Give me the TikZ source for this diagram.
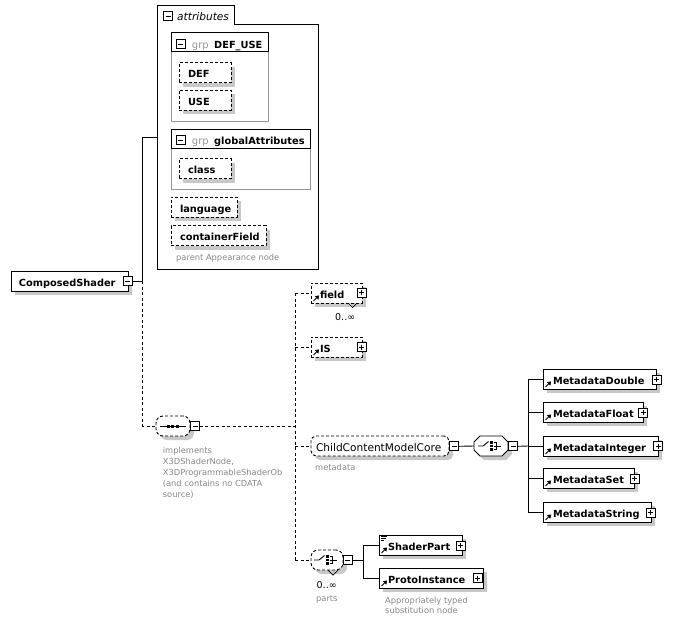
\documentclass[tikz,border=0pt]{standalone}
\usepackage{fontspec}
\setmainfont{DejaVu Sans}
\usetikzlibrary{shadows}
\definecolor{shgray}{RGB}{200,200,200}
\definecolor{grpgray}{RGB}{150,150,150}
\definecolor{anngray}{RGB}{135,135,135}
\newcommand{\bfs}{\fontsize{9.8}{11}\selectfont\bfseries}
\newcommand{\rgs}{\fontsize{10.6}{12}\selectfont}
\newcommand{\sms}{\fontsize{8.3}{11}\selectfont}
\newcommand{\refarr}[1]{%
  \draw[line width=0.9pt] ([shift={(3pt,2.5pt)}]#1.south west) -- ([shift={(6pt,5.5pt)}]#1.south west);
  \fill ([shift={(8.5pt,8pt)}]#1.south west) -- ([shift={(4.3pt,7.3pt)}]#1.south west) -- ([shift={(7.8pt,3.8pt)}]#1.south west) -- cycle;}
\newcommand{\chicon}[2]{%
  \begin{scope}[shift={(#1,#2)}]
    \draw[line width=0.9pt] (-13,0) -- (-8,0) -- (-2.5,-4.5);
    \fill (-0.75,-4.75) rectangle (1.75,-2.25);
    \fill (-0.75,-1.25) rectangle (1.75,1.25);
    \fill (-0.75,2.25) rectangle (1.75,4.75);
    \draw[line width=0.8pt] (3,-3.5) -- (5.5,-3.5) -- (5.5,3.5) -- (3,3.5);
    \draw[line width=0.8pt] (3,0) -- (10,0);
  \end{scope}}
\tikzset{
  boxshadow/.style={general shadow={fill=shgray, shadow xshift=4pt, shadow yshift=-4pt}},
  elem/.style={draw, fill=white, line width=0.9pt, inner xsep=0pt, inner ysep=0pt,
    minimum height=20pt, text width=#1, align=left, text height=10pt, text depth=0pt,
    font=\bfs, boxshadow},
  opt/.style={dash pattern=on 3pt off 2pt},
  conn/.style={line width=0.9pt},
  dconn/.style={line width=0.9pt, dash pattern=on 3pt off 2.5pt},
  pmbox/.style={draw, fill=white, line width=0.8pt, minimum size=9pt, inner sep=0pt},
  pmminus/.style={pmbox, path picture={\draw[line width=0.8pt] ([xshift=2pt]path picture bounding box.west) -- ([xshift=-2pt]path picture bounding box.east);}},
  pmplus/.style={pmbox, path picture={\draw[line width=0.8pt] ([xshift=2pt]path picture bounding box.west) -- ([xshift=-2pt]path picture bounding box.east) ([yshift=-2pt]path picture bounding box.north) -- ([yshift=2pt]path picture bounding box.south);}},
  ann/.style={font=\sms, text=anngray, inner sep=0pt, align=left},
  occ/.style={font=\fontsize{9.5}{11}\selectfont, inner sep=0pt, anchor=base west},
  compo/.style={draw, fill=white, line width=0.9pt, rounded corners=7pt, inner sep=0pt, minimum height=20pt, boxshadow},
}
\begin{document}
\begin{tikzpicture}[x=1pt,y=-1pt]
\useasboundingbox (0,0) rectangle (675,622);

% ---------- attributes container ----------
\draw[line width=0.9pt] (157,5) -- (234,5) -- (234,24) -- (318,24) -- (318,269) -- (157,269) -- cycle;
\node[pmminus] (attrm) at (168.2,16) {};
\node[font=\rgs\itshape, anchor=base west, inner sep=0pt] (attrt) at (177,20) {attributes};
\coordinate (attrL) at (157,137);

% DEF_USE group
\draw[grpgray, line width=0.9pt] (171,51.7) rectangle (268.7,121);
\draw[line width=0.9pt] (171,32.7) rectangle (268.7,51.7);
\node[pmminus] (dum) at (180.5,44.2) {};
\node[font=\fontsize{10}{12}\selectfont, text=grpgray, anchor=base west, inner sep=0pt] (dug) at (191.7,48.3) {grp};
\node[font=\bfs, anchor=base west, inner sep=0pt] (dut) at (214,48.3) {DEF\_USE};
\node[elem=52pt, opt] (def) at (205,72.5) {\hspace*{9pt}DEF};
\node[elem=52pt, opt] (use) at (205,100) {\hspace*{9pt}USE};

% globalAttributes group
\draw[grpgray, line width=0.9pt] (171,148.3) rectangle (310.7,189.3);
\draw[line width=0.9pt] (171,129.3) rectangle (310.7,148.3);
\node[pmminus] (gam) at (180.5,140) {};
\node[font=\fontsize{10}{12}\selectfont, text=grpgray, anchor=base west, inner sep=0pt] (gag) at (191.7,144) {grp};
\node[font=\bfs, anchor=base west, inner sep=0pt] (gat) at (214,144) {globalAttributes};
\node[elem=52pt, opt] (class) at (205,168.5) {\hspace*{9pt}class};

\node[elem=66pt, opt] (lang) at (204,207.2) {\hspace*{9pt}language};
\node[elem=95pt, opt] (cf) at (218.5,235.7) {\hspace*{9pt}containerField};
\node[ann, anchor=base west] (cfann) at (176,260.2) {parent Appearance node};

% ---------- root ----------
\node[elem=117pt, minimum height=19.5pt] (comp) at (69.5,281.5) {\hspace*{8pt}ComposedShader};
\node[pmminus] (compm) at (127.8,281.3) {};
\coordinate (j1) at (142.7,281.3);
\draw[conn] (compm.east) -- (j1) |- (attrL);

% ---------- sequence ----------
\node[compo, opt, minimum width=34pt] (seq) at (173,426) {};
\draw[line width=0.9pt] (160,426) -- (186,426);
\fill (166.5,424.5) rectangle (169.5,427.5);
\fill (171,424.5) rectangle (174,427.5);
\fill (175.5,424.5) rectangle (178.5,427.5);
\node[pmminus] (seqm) at (195,426.3) {};
\draw[dconn] (j1) |- (seq.west);
\node[ann, anchor=north west] (seqann) at (162.7,446.7) {implements\\X3DShaderNode,\\X3DProgrammableShaderOb\\(and contains no CDATA\\source)};

% main dashed trunk
\coordinate (vtop) at (295,293);
\coordinate (vis) at (295,347);
\coordinate (vseq) at (295,426.3);
\coordinate (vcc) at (295,446);
\coordinate (vbot) at (295,560);
\draw[dconn] (vtop) -- (vbot);
\draw[dconn] (seqm.east) -- (vseq);

% field
\node[elem=51pt, opt] (field) at (336.5,293) {\hspace*{9pt}field};
\refarr{field}
\node[pmplus] (fieldp) at (361.7,292.5) {};
\draw[line width=0.7pt] (348,303) -- (352.5,307.5) -- (357,303);
\node[occ] (fieldocc) at (335,320.5) {0..∞};
\draw[dconn] (vtop) -- (field.west);

% IS
\node[elem=51pt, opt] (is) at (336.5,347) {\hspace*{9pt}IS};
\refarr{is}
\node[pmplus] (isp) at (361.7,347) {};
\draw[dconn] (vis) -- (is.west);

% ChildContentModelCore
\node[elem=138pt, opt, rounded corners=5pt, font=\rgs] (ccmc) at (380,446) {\hspace*{5pt}ChildContentModelCore};
\node[pmminus] (ccmcm) at (454,446.3) {};
\node[ann, anchor=base west] (ccann) at (315,470.7) {metadata};
\draw[dconn] (vcc) -- (ccmc.west);

% choice 1
\node[minimum width=34pt, minimum height=20pt, inner sep=0pt] (ch1) at (491,446) {};
\fill[shgray] (484,440) -- (506,440) -- (512,446) -- (512,454) -- (506,460) -- (484,460) -- (478,454) -- (478,446) -- cycle;
\filldraw[fill=white, line width=0.9pt] (480,436) -- (502,436) -- (508,442) -- (508,450) -- (502,456) -- (480,456) -- (474,450) -- (474,442) -- cycle;
\chicon{491}{446}
\node[pmminus] (ch1m) at (513,446.3) {};
\draw[conn] (ccmcm.east) -- (ch1.west);

\coordinate (m1) at (528,379);
\coordinate (m2) at (528,412);
\coordinate (m3) at (528,446);
\coordinate (m4) at (528,478);
\coordinate (m5) at (528,512);
\draw[conn] (m1) -- (m5);
\draw[conn] (ch1m.east) -- (m3);

\node[elem=113pt] (md1) at (599.5,379) {\hspace*{10pt}MetadataDouble};
\node[elem=100pt] (md2) at (593,412) {\hspace*{10pt}MetadataFloat};
\node[elem=115pt] (md3) at (600.5,446) {\hspace*{10pt}MetadataInteger};
\node[elem=91pt] (md4) at (588.5,478) {\hspace*{10pt}MetadataSet};
\node[elem=108pt] (md5) at (597,512) {\hspace*{10pt}MetadataString};
\refarr{md1}\refarr{md2}\refarr{md3}\refarr{md4}\refarr{md5}
\node[pmplus] (md1p) at (656.5,379.5) {};
\node[pmplus] (md2p) at (643.3,412.5) {};
\node[pmplus] (md3p) at (658,446) {};
\node[pmplus] (md4p) at (634.6,478.5) {};
\node[pmplus] (md5p) at (650.5,512.5) {};
\draw[conn] (m1) -- (md1.west);
\draw[conn] (m2) -- (md2.west);
\draw[conn] (m3) -- (md3.west);
\draw[conn] (m4) -- (md4.west);
\draw[conn] (m5) -- (md5.west);

% parts choice
\node[compo, opt, minimum width=32pt] (parts) at (327,560) {};
\draw[line width=0.7pt] (328,570) -- (333,575) -- (338,570);
\chicon{327}{560}
\node[pmminus] (partsm) at (347.7,560.3) {};
\node[occ] (partsocc) at (316.5,588) {0..∞};
\node[ann, anchor=base west] (partsann) at (316,601.5) {parts};
\draw[dconn] (vbot) -- (parts.west);

\coordinate (p1) at (363,545);
\coordinate (pm) at (363,560.3);
\coordinate (p2) at (363,578);
\draw[conn] (p1) -- (p2);
\draw[conn] (partsm.east) -- (pm);

\node[elem=83pt] (sp) at (420.5,545) {\hspace*{9pt}ShaderPart};
\refarr{sp}
\draw[line width=0.7pt] (381,536.8) -- (387,536.8) (381,538.8) -- (386,538.8) (381,540.8) -- (384,540.8);
\node[pmplus] (spp) at (460.5,545.5) {};
\node[elem=104pt] (pi) at (431,578) {\hspace*{9pt}ProtoInstance};
\refarr{pi}
\node[pmplus] (pip) at (477.5,578) {};
\draw[conn] (p1) -- (sp.west);
\draw[conn] (p2) -- (pi.west);
\node[ann, anchor=north west, font=\fontsize{8.3}{10}\selectfont] (piann) at (385,596.5) {Appropriately typed\\substitution node};

\end{tikzpicture}
\end{document}
